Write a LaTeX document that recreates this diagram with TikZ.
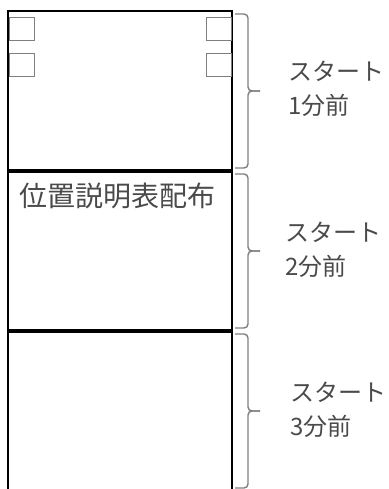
\documentclass[tikz,border=0pt]{standalone}
\usepackage{fontspec}
\newfontfamily\jpfont{Noto Sans CJK JP}
\definecolor{textgray}{HTML}{4A4A4A}
\definecolor{linegray}{HTML}{7F7F7F}
\begin{document}
\begin{tikzpicture}[x=1pt,y=-1pt,
    frame/.style={line width=2.4pt,black},
    divider/.style={line width=3.2pt,black},
    slot/.style={draw=linegray,line width=1pt,minimum width=25pt,minimum height=23pt,inner sep=0pt},
    bracket/.style={draw=linegray,line width=1.4pt,rounded corners=4pt},
    label/.style={font=\jpfont\fontsize{24}{34}\selectfont,text=textgray,align=left,anchor=west,inner sep=0pt}]
    \useasboundingbox (0,0) rectangle (388,489);

    % column
    \coordinate (tl) at (8,11);
    \coordinate (tr) at (232,11);
    \coordinate (bl) at (8,489);
    \coordinate (br) at (232,489);
    \draw[frame] (bl) -- (tl) -- (tr) -- (br);
    \coordinate (d1l) at (8,171);
    \coordinate (d1r) at (232,171);
    \coordinate (d2l) at (8,331);
    \coordinate (d2r) at (232,331);
    \draw[divider] (d1l) -- (d1r);
    \draw[divider] (d2l) -- (d2r);

    % small boxes
    \node[slot] (s1) at (21.5,29.5) {};
    \node[slot] (s2) at (21.5,65.5) {};
    \node[slot] (s3) at (218.5,29.5) {};
    \node[slot] (s4) at (218.5,65.5) {};

    \node[font=\jpfont\fontsize{28}{34}\selectfont,text=textgray,anchor=base west,inner sep=0pt] (hand) at (19,206) {位置説明表配布};

    % braces
    \coordinate (b1t) at (235,14);
    \coordinate (b1m) at (260,91);
    \coordinate (b1b) at (235,168);
    \coordinate (b2t) at (235,174);
    \coordinate (b2m) at (260,251);
    \coordinate (b2b) at (235,328);
    \coordinate (b3t) at (235,334);
    \coordinate (b3m) at (260,411);
    \coordinate (b3b) at (235,488);
    \draw[bracket] (b1t) -- ++(13,0) -- ++(0,77) -- (b1m);
    \draw[bracket] (b1b) -- ++(13,0) -- ++(0,-77) -- (b1m);
    \draw[bracket] (b2t) -- ++(13,0) -- ++(0,77) -- (b2m);
    \draw[bracket] (b2b) -- ++(13,0) -- ++(0,-77) -- (b2m);
    \draw[bracket] (b3t) -- ++(13,0) -- ++(0,77) -- (b3m);
    \draw[bracket] (b3b) -- ++(13,0) -- ++(0,-77) -- (b3m);

    \node[label] (m1) at (288,89) {スタート\\1分前};
    \node[label] (m2) at (285,250) {スタート\\2分前};
    \node[label] (m3) at (290,410) {スタート\\3分前};
\end{tikzpicture}
\end{document}
